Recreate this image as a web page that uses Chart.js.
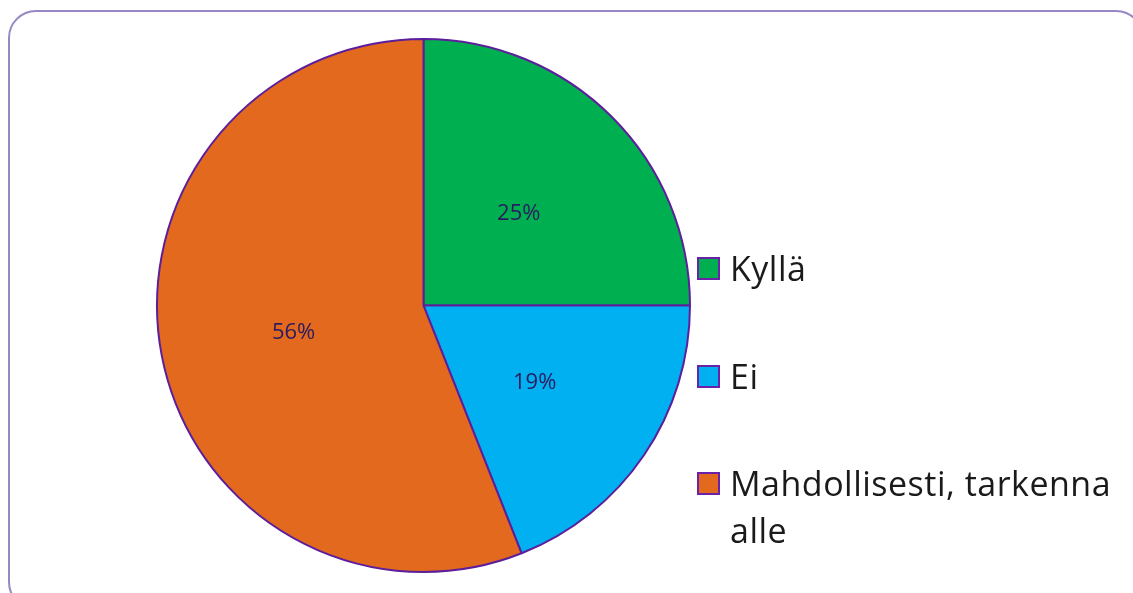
<!DOCTYPE html>
<html>
<head>
<meta charset="utf-8">
<script src="https://cdn.jsdelivr.net/npm/chart.js@4"></script>
<style>
    html, body { margin: 0; padding: 0; background: #fff; overflow: hidden; }
    #kader {
        position: absolute; left: 8px; top: 10px; width: 1136px; height: 600px;
        border: 2px solid #9788c4; border-radius: 28px; box-sizing: border-box;
    }
    #wrap { position: absolute; left: 0; top: 0; width: 1133px; height: 593px; }
    #legenda { position: absolute; left: 697px; top: 0; font-family: "Open Sans", sans-serif; font-size: 34px; letter-spacing: 0.5px; color: #1a1a1a; }
    .item { position: absolute; left: 0; width: 430px; }
    .blok { position: absolute; left: 0; width: 19px; height: 19px; border: 2px solid #6a22a8; }
    .tekst { position: absolute; left: 33px; line-height: 47px; white-space: normal; width: 395px; }
</style>
</head>
<body>
<div id="kader"></div>
<div id="wrap"><canvas id="taartChart" width="1133" height="593"></canvas></div>
<div id="legenda"></div>
<script>
// Data
const categorieen = ['Kyllä', 'Ei', 'Mahdollisesti, tarkenna alle'];
const waarden = [25, 19, 56];
const kleuren = ['#00b050', '#00b0f0', '#e3691e'];
const legendaY = [268, 376, 483]; // midden van eerste regel

// Percentages in de taartpunten
const labelPlugin = {
    id: 'labelPlugin',
    afterDatasetsDraw(chart) {
        const ctx = chart.ctx;
        const meta = chart.getDatasetMeta(0);
        const totaal = waarden.reduce((a, b) => a + b, 0);
        ctx.save();
        ctx.font = '22px "Open Sans", sans-serif';
        ctx.fillStyle = '#2a1b5e';
        ctx.textAlign = 'center';
        ctx.textBaseline = 'middle';
        meta.data.forEach((arc, i) => {
            let pos = arc.tooltipPosition();
            ctx.fillText(Math.round(waarden[i] / totaal * 100) + '%', pos.x + 1, pos.y + 2);
        });
        ctx.restore();
    }
};

function tekenTaart() {
    var ctx = document.getElementById('taartChart').getContext('2d');
    new Chart(ctx, {
        type: 'pie',
        data: {
            labels: categorieen,
            datasets: [{
                data: waarden,
                backgroundColor: kleuren,
                borderColor: '#5c1f9c',
                borderWidth: 2
            }]
        },
        options: {
            responsive: false,
            animation: false,
            layout: { padding: { left: 156, right: 442, top: 37, bottom: 19 } },
            plugins: { legend: { display: false }, tooltip: { enabled: false } }
        },
        plugins: [labelPlugin]
    });
}

function tekenLegenda() {
    let legenda = document.getElementById('legenda');
    categorieen.forEach((naam, i) => {
        let item = document.createElement('div');
        item.className = 'item';
        item.style.top = (legendaY[i] - 11) + 'px';
        let blok = document.createElement('div');
        blok.className = 'blok';
        blok.style.background = kleuren[i];
        let tekst = document.createElement('div');
        tekst.className = 'tekst';
        tekst.style.top = (11 - 23.5) + 'px';
        tekst.textContent = naam;
        item.appendChild(blok);
        item.appendChild(tekst);
        legenda.appendChild(item);
    });
}

window.onload = function() {
    tekenTaart();
    tekenLegenda();
};
</script>
</body>
</html>
